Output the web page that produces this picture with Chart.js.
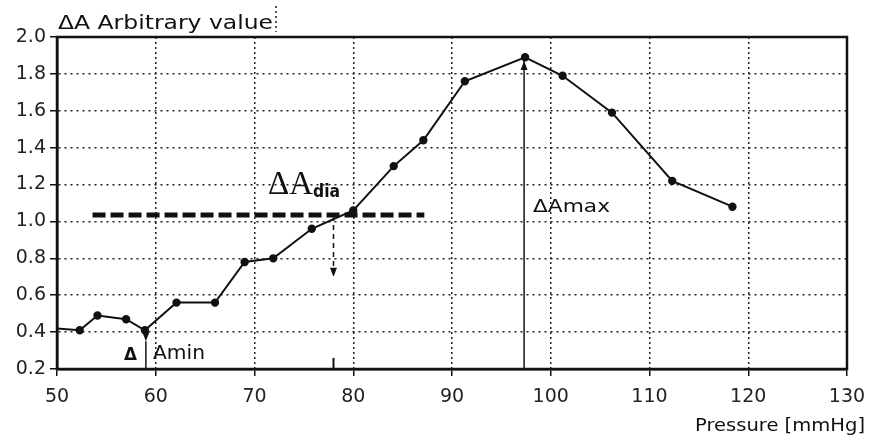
<!DOCTYPE html>
<html>
<head>
<meta charset="utf-8">
<script src="https://cdn.jsdelivr.net/npm/chart.js@4/dist/chart.umd.min.js"></script>
<style>
    body { margin: 0; background: #fff; }
</style>
</head>
<body>
<canvas id="pressureChart" width="870" height="441"></canvas>
<script>
// readings
const pressure = [50, 52.3, 54.1, 57, 58.9, 62.1, 66, 69, 71.9, 75.8, 80, 84.1, 87.1, 91.3, 97.4, 101.2, 106.2, 112.3, 118.4];
const amplitude = [0.42, 0.41, 0.49, 0.47, 0.41, 0.56, 0.56, 0.78, 0.80, 0.96, 1.06, 1.30, 1.44, 1.76, 1.89, 1.79, 1.59, 1.22, 1.08];

const xTicks = [50, 60, 70, 80, 90, 100, 110, 120, 130];
const yTicks = [0.2, 0.4, 0.6, 0.8, 1.0, 1.2, 1.4, 1.6, 1.8, 2.0];

// annotation marks (data units)
const diaLevel = [1.035, 1.035];
const diaRange = [53.6, 87.2];
const diaArrowX = [78, 78];
const diaArrowY = [1.03, 0.70];
const diaFootY = [0.2, 0.26];
const maxArrowX = [97.3, 97.3];
const maxArrowY = [0.2, 1.87];
const minArrowX = [59, 59];
const minArrowY = [0.2, 0.35];

function pts(xs, ys) {
    return xs.map((x, i) => ({ x: x, y: ys[i] }));
}

function stretchText(ctx, text, x, y, font, width, align) {
    ctx.save();
    ctx.font = font;
    ctx.fillStyle = '#111';
    ctx.textBaseline = 'alphabetic';
    const w = ctx.measureText(text).width;
    const sx = width ? width / w : 1;
    const left = align === 'right' ? x - w * sx : x;
    ctx.translate(left, y);
    ctx.scale(sx, 1);
    ctx.textAlign = 'left';
    ctx.fillText(text, 0, 0);
    ctx.restore();
}

function arrowHead(ctx, x, y, dir) {
    ctx.save();
    ctx.fillStyle = '#111';
    ctx.beginPath();
    ctx.moveTo(x, y);
    ctx.lineTo(x - 3.5, y - 9 * dir);
    ctx.lineTo(x + 3.5, y - 9 * dir);
    ctx.closePath();
    ctx.fill();
    ctx.restore();
}

const decorations = {
    id: 'decorations',
    afterDraw(chart) {
        const { ctx, chartArea: a, scales: { x, y } } = chart;

        // frame
        ctx.save();
        ctx.strokeStyle = '#111';
        ctx.lineWidth = 2.5;
        ctx.strokeRect(a.left, a.top, a.right - a.left, a.bottom - a.top);
        ctx.restore();

        // arrow heads
        arrowHead(ctx, x.getPixelForValue(maxArrowX[1]), y.getPixelForValue(maxArrowY[1]), -1);
        arrowHead(ctx, x.getPixelForValue(minArrowX[1]), y.getPixelForValue(minArrowY[1]), 1);
        arrowHead(ctx, x.getPixelForValue(diaArrowX[1]), y.getPixelForValue(diaArrowY[1]), 1);

        // texts
        stretchText(ctx, 'ΔA Arbitrary value', 58, 29, '19px "DejaVu Sans"', 215);
        stretchText(ctx, 'Pressure [mmHg]', 865, 431, '18px "DejaVu Sans"', 170, 'right');
        stretchText(ctx, 'ΔAmax', 533, 212, '18px "DejaVu Sans"', 77);
        stretchText(ctx, 'Δ', 124, 360, 'bold 17px "DejaVu Sans"', 13);
        stretchText(ctx, 'Amin', 153, 359, '19px "DejaVu Sans"', 52);
        stretchText(ctx, 'ΔA', 268, 194, '33px "Liberation Serif"', 45);
        stretchText(ctx, 'dia', 313, 197, 'bold 17px "DejaVu Sans"', 27);

        // dotted cursor mark next to the title
        ctx.save();
        ctx.strokeStyle = '#222';
        ctx.lineWidth = 1.5;
        ctx.setLineDash([2, 3]);
        ctx.beginPath();
        ctx.moveTo(276, 6);
        ctx.lineTo(276, 32);
        ctx.stroke();
        ctx.restore();
    }
};

const ctx = document.getElementById('pressureChart').getContext('2d');

new Chart(ctx, {
    type: 'scatter',
    data: {
        datasets: [
            {
                data: pts(pressure, amplitude),
                showLine: true,
                borderColor: '#111',
                backgroundColor: '#111',
                borderWidth: 2,
                pointRadius: c => (c.dataIndex === 0 ? 0 : 3.2),
                tension: 0
            },
            {
                data: pts(diaRange, diaLevel),
                showLine: true,
                borderColor: '#111',
                borderWidth: 5,
                borderDash: [13, 5],
                pointRadius: 0
            },
            {
                data: pts(diaArrowX, diaArrowY),
                showLine: true,
                borderColor: '#111',
                borderWidth: 1.5,
                borderDash: [5, 4],
                pointRadius: 0
            },
            {
                data: pts(diaArrowX, diaFootY),
                showLine: true,
                borderColor: '#111',
                borderWidth: 2,
                pointRadius: 0
            },
            {
                data: pts(maxArrowX, maxArrowY),
                showLine: true,
                borderColor: '#111',
                borderWidth: 1.5,
                pointRadius: 0
            },
            {
                data: pts(minArrowX, minArrowY),
                showLine: true,
                borderColor: '#111',
                borderWidth: 1.5,
                pointRadius: 0
            }
        ]
    },
    options: {
        responsive: false,
        animation: false,
        layout: {
            padding: { top: 37, right: 23, left: 0, bottom: 0 }
        },
        plugins: {
            legend: { display: false },
            tooltip: { enabled: false }
        },
        scales: {
            x: {
                type: 'linear',
                min: 50,
                max: 130,
                afterBuildTicks: s => { s.ticks = xTicks.map(v => ({ value: v })); },
                afterFit: s => { s.height = 72; s.paddingRight = 0; },
                grid: {
                    color: '#222',
                    lineWidth: 1.5,
                    tickLength: 7,
                    tickColor: '#111',
                    tickWidth: 1.5
                },
                border: { display: true, color: '#111', width: 2.5, dash: [2, 3] },
                ticks: {
                    color: '#222',
                    padding: 10,
                    font: { family: '"DejaVu Sans"', size: 19 }
                }
            },
            y: {
                min: 0.2,
                max: 2.0,
                afterBuildTicks: s => { s.ticks = yTicks.map(v => ({ value: v })); },
                afterFit: s => { s.width = 57; },
                grid: {
                    color: '#222',
                    lineWidth: 1.5,
                    tickLength: 7,
                    tickColor: '#111',
                    tickWidth: 1.5
                },
                border: { display: true, color: '#111', width: 2.5, dash: [2, 4] },
                ticks: {
                    color: '#222',
                    padding: 4,
                    font: { family: '"DejaVu Sans"', size: 19 },
                    callback: v => v.toFixed(1)
                }
            }
        }
    },
    plugins: [decorations]
});
</script>
</body>
</html>
